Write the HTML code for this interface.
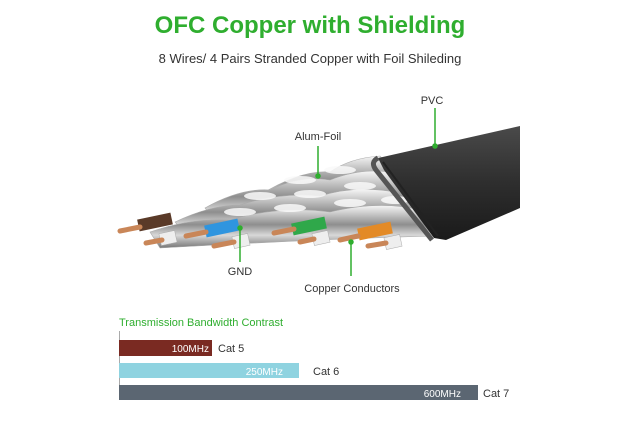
<!DOCTYPE html>
<html><head><style>
body{margin:0;background:#fff;width:620px;height:420px;overflow:hidden;font-family:"Liberation Sans","DejaVu Sans",sans-serif}
</style></head><body>
<svg width="620" height="420" xmlns="http://www.w3.org/2000/svg" font-family="Liberation Sans, DejaVu Sans, sans-serif">
<defs>
<linearGradient id="silver" x1="0" y1="0" x2="0" y2="1">
<stop offset="0" stop-color="#f6f6f6"/><stop offset="0.45" stop-color="#8e8e8e"/><stop offset="0.7" stop-color="#d8d8d8"/><stop offset="1" stop-color="#777"/></linearGradient>
<linearGradient id="jack" x1="0" y1="0" x2="0" y2="1">
<stop offset="0" stop-color="#4a4a4a"/><stop offset="0.5" stop-color="#2e2e2e"/><stop offset="1" stop-color="#1a1a1a"/></linearGradient>
</defs>
<text x="310" y="33" text-anchor="middle" font-size="24" font-weight="bold" fill="#2fae2f">OFC Copper with Shielding</text>
<text x="310" y="63" text-anchor="middle" font-size="13" fill="#333">8 Wires/ 4 Pairs Stranded Copper with Foil Shileding</text>
<!-- foil pairs (four rows) -->
<g fill="url(#silver)" stroke="#aaa" stroke-width="0.6">
<path d="M260,195 Q300,170 330,172 Q350,158 380,156 L405,185 Q340,190 275,210 Z"/>
<path d="M205,208 Q240,188 270,190 Q300,175 330,180 Q360,168 390,172 L420,205 Q330,210 220,228 Z"/>
<path d="M175,222 Q210,205 240,205 Q280,192 320,196 Q355,185 395,192 L430,222 Q330,228 190,240 Z"/>
<path d="M150,232 Q190,218 230,220 Q280,205 330,212 Q380,200 420,210 L440,236 Q340,238 160,248 Z"/>
</g>
<g fill="#fafafa" opacity="0.85">
<ellipse cx="340" cy="170" rx="16" ry="4"/><ellipse cx="300" cy="180" rx="16" ry="4"/>
<ellipse cx="260" cy="196" rx="16" ry="4"/><ellipse cx="310" cy="194" rx="16" ry="4"/><ellipse cx="360" cy="186" rx="16" ry="4"/>
<ellipse cx="240" cy="212" rx="16" ry="4"/><ellipse cx="290" cy="208" rx="16" ry="4"/><ellipse cx="350" cy="203" rx="16" ry="4"/><ellipse cx="395" cy="200" rx="14" ry="4"/>
</g>
<!-- jacket -->
<polygon points="378,158 520,126 520,208 446,240 434,238 384,170" fill="url(#jack)"/>
<path d="M378,158 Q370,162 376,170 L432,240" stroke="#555" stroke-width="5" fill="none"/>
<path d="M383,162 L438,236" stroke="#222" stroke-width="2" fill="none"/>
<!-- colored insulations -->
<rect x="138" y="216" width="34" height="12" fill="#5a3a28" transform="rotate(-12 155 222)"/>
<rect x="205" y="222" width="34" height="12" fill="#2f95df" transform="rotate(-12 222 228)"/>
<rect x="292" y="220" width="34" height="12" fill="#2fa84a" transform="rotate(-12 309 226)"/>
<rect x="358" y="225" width="34" height="12" fill="#e38a26" transform="rotate(-12 375 231)"/>
<g fill="#eee" stroke="#aaa" stroke-width="0.5">
<rect x="160" y="232" width="16" height="12" transform="rotate(-12 168 238)"/>
<rect x="233" y="235" width="16" height="12" transform="rotate(-12 241 241)"/>
<rect x="313" y="232" width="16" height="12" transform="rotate(-12 321 238)"/>
<rect x="385" y="236" width="16" height="12" transform="rotate(-12 393 242)"/>
</g>
<g stroke="#c98658" stroke-width="5" stroke-linecap="round">
<line x1="120" y1="231" x2="140" y2="227"/><line x1="146" y1="243" x2="162" y2="240"/>
<line x1="186" y1="236" x2="206" y2="232"/><line x1="214" y1="246" x2="234" y2="242"/>
<line x1="274" y1="233" x2="294" y2="229"/><line x1="300" y1="242" x2="314" y2="239"/>
<line x1="340" y1="240" x2="358" y2="236"/><line x1="368" y1="246" x2="386" y2="243"/>
</g>
<!-- labels and leaders -->
<g stroke="#2fae2f" stroke-width="1.5" fill="#2fae2f">
<line x1="435" y1="108" x2="435" y2="145"/><circle cx="435" cy="146" r="2"/>
<line x1="318" y1="146" x2="318" y2="175"/><circle cx="318" cy="176" r="2"/>
<line x1="240" y1="228" x2="240" y2="262"/><circle cx="240" cy="228" r="2"/>
<line x1="351" y1="242" x2="351" y2="276"/><circle cx="351" cy="242" r="2"/>
</g>
<g font-size="11" fill="#333">
<text x="432" y="104" text-anchor="middle">PVC</text>
<text x="318" y="140" text-anchor="middle">Alum-Foil</text>
<text x="240" y="275" text-anchor="middle">GND</text>
<text x="352" y="292" text-anchor="middle">Copper Conductors</text>
</g>
<!-- bars -->
<text x="119" y="326" font-size="11" fill="#2fae2f">Transmission Bandwidth Contrast</text>
<line x1="119.5" y1="331" x2="119.5" y2="400" stroke="#aaa"/>
<rect x="119" y="340" width="93" height="16" fill="#7a2a22"/>
<rect x="119" y="363" width="180" height="15" fill="#8fd3e0"/>
<rect x="119" y="385" width="359" height="15" fill="#5b6672"/>
<g font-size="10" fill="#fff" text-anchor="end">
<text x="209" y="352">100MHz</text><text x="283" y="375">250MHz</text><text x="461" y="397">600MHz</text>
</g>
<g font-size="11" fill="#333">
<text x="218" y="352">Cat 5</text><text x="313" y="375">Cat 6</text><text x="483" y="397">Cat 7</text>
</g>
</svg>
</body></html>
